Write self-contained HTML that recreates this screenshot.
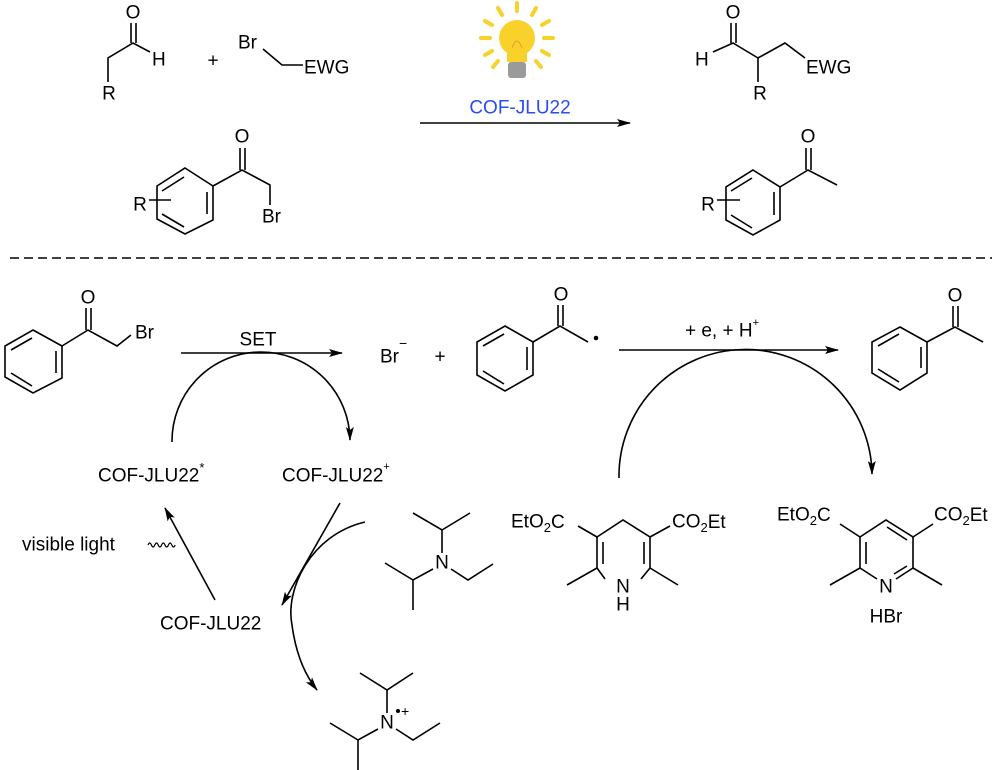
<!DOCTYPE html>
<html><head><meta charset="utf-8"><style>
html,body{margin:0;padding:0;background:#fff;}
svg{display:block;}
text{font-family:"Liberation Sans",Arial,sans-serif;font-size:19px;fill:#000;dominant-baseline:central;}
.a{text-anchor:middle;}
line,polyline,path,polygon{stroke:#000;stroke-width:1.6;fill:none;}
line.ray{stroke:#f8d12a;stroke-width:4;stroke-linecap:round;}
</style></head><body>
<svg width="1000" height="770" viewBox="0 0 1000 770" xmlns="http://www.w3.org/2000/svg">
<defs>
<marker id="ah" markerWidth="14" markerHeight="8" refX="13" refY="4" orient="auto" markerUnits="userSpaceOnUse">
<path d="M0,0 L14,4 L0,8 L3,4 Z" style="fill:#000;stroke:none"/></marker>
</defs>
<!-- top aldehyde -->
<text class="a" x="133" y="13">O</text>
<line x1="131" y1="23" x2="131" y2="43"/><line x1="136" y1="23" x2="136" y2="43"/>
<polyline points="150,52 133,43 108,58 108,82"/>
<text x="152" y="60">H</text>
<text class="a" x="109" y="94">R</text>
<text class="a" x="213" y="61">+</text>
<text x="238" y="43">Br</text>
<polyline points="263,49 282,65 303,65"/>
<text x="304" y="68">EWG</text>
<!-- bulb -->
<g>
<circle cx="517" cy="38" r="18" style="fill:#f8d12a;stroke:none"/>
<rect x="507" y="48" width="20" height="14" style="fill:#f8d12a;stroke:none"/>
<rect x="508" y="62" width="18" height="16" rx="3" style="fill:#9a9a9a;stroke:none"/>
<line class="ray" x1="517" y1="3" x2="517" y2="11"/>
<line class="ray" x1="498" y1="8" x2="502" y2="15"/><line class="ray" x1="536" y1="8" x2="532" y2="15"/>
<line class="ray" x1="485" y1="21" x2="492" y2="25"/><line class="ray" x1="549" y1="21" x2="542" y2="25"/>
<line class="ray" x1="481" y1="38" x2="490" y2="38"/><line class="ray" x1="553" y1="38" x2="544" y2="38"/>
<line class="ray" x1="485" y1="55" x2="492" y2="51"/><line class="ray" x1="549" y1="55" x2="542" y2="51"/>
<line class="ray" x1="493" y1="67" x2="498" y2="61"/><line class="ray" x1="541" y1="67" x2="536" y2="61"/>
<path d="M512,48 q5,-14 10,0" style="stroke:#e89a3a;stroke-width:1"/>
</g>
<text class="a" x="520" y="108" style="fill:#2a4cf0">COF-JLU22</text>
<line x1="420" y1="123" x2="630" y2="123" marker-end="url(#ah)"/>
<!-- top bromoacetophenone -->
<polygon points="185,168 213,186 213,220 185,234 157,219 157,186"/>
<line x1="207" y1="192" x2="207" y2="214"/><line x1="162" y1="191" x2="184" y2="177"/><line x1="162" y1="214" x2="184" y2="227"/>
<polyline points="213,186 242,170 270,185 270,205"/>
<line x1="240" y1="148" x2="240" y2="170"/><line x1="245" y1="148" x2="245" y2="170"/>
<text class="a" x="242" y="137">O</text>
<text x="262" y="217">Br</text>
<text class="a" x="140" y="205">R</text>
<line x1="149" y1="200" x2="171" y2="200"/>
<!-- top products -->
<text class="a" x="733" y="13">O</text>
<line x1="731" y1="23" x2="731" y2="43"/><line x1="736" y1="23" x2="736" y2="43"/>
<polyline points="713,52 733,43 758,58 785,43 805,58"/>
<line x1="758" y1="58" x2="758" y2="82"/>
<text x="695" y="60">H</text>
<text class="a" x="760" y="94">R</text>
<text x="806" y="68">EWG</text>
<polygon points="753,170 780,187 780,220 753,235 726,220 726,187"/>
<line x1="774" y1="192" x2="774" y2="215"/><line x1="731" y1="191" x2="752" y2="178"/><line x1="731" y1="215" x2="752" y2="228"/>
<polyline points="780,187 808,170 837,185"/>
<line x1="806" y1="148" x2="806" y2="170"/><line x1="811" y1="148" x2="811" y2="170"/>
<text class="a" x="808" y="137">O</text>
<text class="a" x="708" y="205">R</text>
<line x1="717" y1="200" x2="740" y2="200"/>
<!-- dashed -->
<line x1="10" y1="258" x2="992" y2="258" style="stroke-dasharray:9,5;stroke-width:1.4"/>
<!-- bottom left phenacyl bromide -->
<polygon points="33,330 62,346 62,378 33,393 5,377 5,346"/>
<line x1="56" y1="351" x2="56" y2="373"/><line x1="11" y1="350" x2="32" y2="338"/><line x1="11" y1="373" x2="32" y2="386"/>
<polyline points="62,346 88,330 117,346 131,335"/>
<line x1="86" y1="308" x2="86" y2="330"/><line x1="91" y1="308" x2="91" y2="330"/>
<text class="a" x="88" y="298">O</text>
<text x="135" y="333">Br</text>
<text class="a" x="258" y="340">SET</text>
<line x1="181" y1="353" x2="342" y2="353" marker-end="url(#ah)"/>
<path d="M172,442 A88,88 0 0 1 350,440" marker-end="url(#ah)"/>
<text x="98" y="476">COF-JLU22<tspan dy="-9" style="font-size:13px">*</tspan></text>
<text x="282" y="476">COF-JLU22<tspan dy="-9" style="font-size:11px">+</tspan></text>
<text x="380" y="357">Br<tspan dy="-14" style="font-size:14px">−</tspan></text>
<text class="a" x="440" y="357">+</text>
<!-- radical -->
<polygon points="505,326 533,342 533,375 505,391 477,375 477,342"/>
<line x1="527" y1="347" x2="527" y2="370"/><line x1="483" y1="346" x2="504" y2="334"/><line x1="483" y1="371" x2="504" y2="384"/>
<polyline points="533,342 560,326 588,342"/>
<line x1="558" y1="305" x2="558" y2="326"/><line x1="563" y1="305" x2="563" y2="326"/>
<text class="a" x="561" y="295">O</text>
<circle cx="596" cy="338" r="2.3" style="fill:#000;stroke:none"/>
<text class="a" x="722" y="331">+ e, + H<tspan dy="-8" style="font-size:11px">+</tspan></text>
<line x1="619" y1="350" x2="838" y2="350" marker-end="url(#ah)"/>
<path d="M619,478 A126,126 0 0 1 872,474" marker-end="url(#ah)"/>
<!-- right acetophenone -->
<polygon points="900,327 927,342 927,373 900,390 872,373 872,342"/>
<line x1="921" y1="347" x2="921" y2="368"/><line x1="878" y1="346" x2="899" y2="334"/><line x1="878" y1="369" x2="899" y2="382"/>
<polyline points="927,342 955,327 983,342"/>
<line x1="953" y1="306" x2="953" y2="327"/><line x1="958" y1="306" x2="958" y2="327"/>
<text class="a" x="955" y="296">O</text>
<!-- cycle bottom -->
<text x="160" y="624">COF-JLU22</text>
<line x1="215" y1="600" x2="165" y2="508" marker-end="url(#ah)"/>
<path d="M148,545 q1.7,-4 3.4,0 t3.4,0 t3.4,0 t3.4,0 t3.4,0 t3.4,0 t3.4,0 t3.4,0" style="stroke-width:1.2"/>
<text x="22" y="545">visible light</text>
<line x1="340" y1="503" x2="282" y2="605" marker-end="url(#ah)"/>
<path d="M365,522 C310,535 285,590 292,625 C296,655 305,675 317,690" marker-end="url(#ah)"/>
<!-- DIPEA -->
<text class="a" x="442" y="563">N</text>
<polyline points="413,513 442,530 470,513"/><line x1="442" y1="530" x2="442" y2="553"/>
<polyline points="433,569 413,580 385,563"/><line x1="413" y1="580" x2="413" y2="610"/>
<polyline points="451,569 468,580 493,564"/>
<!-- radical cation -->
<text class="a" x="387" y="723">N</text>
<polyline points="360,673 387,690 413,673"/><line x1="387" y1="690" x2="387" y2="713"/>
<polyline points="378,729 358,740 330,723"/><line x1="358" y1="740" x2="358" y2="770"/>
<polyline points="396,729 413,740 440,723"/>
<circle cx="398" cy="711" r="2" style="fill:#000;stroke:none"/>
<text x="401" y="711" style="font-size:14px">+</text>
<!-- Hantzsch ester -->
<polyline points="605,579 597,568 597,537 623,520 650,537 650,568 641,579"/>
<line x1="603" y1="542" x2="603" y2="564"/><line x1="644" y1="542" x2="644" y2="564"/>
<line x1="597" y1="568" x2="567" y2="585"/><line x1="650" y1="568" x2="678" y2="585"/>
<text class="a" x="623" y="587">N</text><text class="a" x="623" y="605">H</text>
<line x1="597" y1="537" x2="578" y2="526"/><line x1="650" y1="537" x2="670" y2="526"/>
<text x="511" y="522">EtO<tspan dy="5" style="font-size:13px">2</tspan><tspan dy="-5">C</tspan></text>
<text x="672" y="522">CO<tspan dy="5" style="font-size:13px">2</tspan><tspan dy="-5">Et</tspan></text>
<!-- pyridine -->
<polyline points="877,579 860,568 860,537 886,520 913,537 913,568 896,579"/>
<line x1="866" y1="542" x2="866" y2="564"/><line x1="887" y1="527" x2="907" y2="540"/><line x1="907" y1="566" x2="894" y2="574"/>
<line x1="860" y1="568" x2="830" y2="585"/><line x1="913" y1="568" x2="942" y2="585"/>
<text class="a" x="886" y="587">N</text>
<text class="a" x="886" y="617">HBr</text>
<line x1="860" y1="537" x2="840" y2="524"/><line x1="913" y1="537" x2="933" y2="524"/>
<text x="777" y="515">EtO<tspan dy="5" style="font-size:13px">2</tspan><tspan dy="-5">C</tspan></text>
<text x="934" y="515">CO<tspan dy="5" style="font-size:13px">2</tspan><tspan dy="-5">Et</tspan></text>
</svg>
</body></html>
